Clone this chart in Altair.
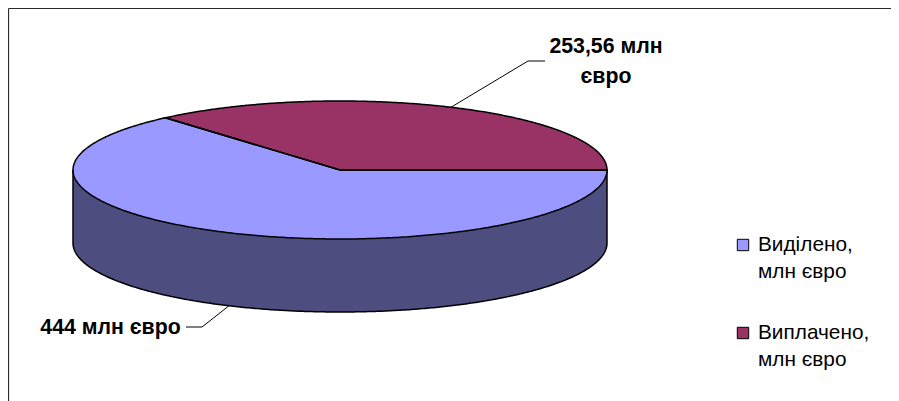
import math
import altair as alt
import pandas as pd

# --- chart values ---
categories = ["Виділено, млн євро", "Виплачено, млн євро"]
values = [444, 253.56]
data_labels = ["444 млн євро", "253,56 млн\nєвро"]
legend_labels = ["Виділено,\nмлн євро", "Виплачено,\nмлн євро"]
colors = ["#9999FF", "#993366"]
side_color = "#4D4D80"

# --- geometry of the tilted pie (unit ellipse, page pixels for the frame) ---
W, H = 883, 393
CX, CY, RX, RY, DEPTH = 340.0, 170.0, 267.0, 69.0, 73.0
d = DEPTH / RY


def ux(px):
    return (px - CX) / RX


def uy(py):
    return (CY - py) / RY


A = 360 * values[1] / sum(values)  # purple sector runs from 0 to A, counter-clockwise
ca, sa = math.cos(math.radians(A)), math.sin(math.radians(A))

ts = sorted(set([float(t) for t in range(0, 181)] + [A]))
xs = [(math.cos(math.radians(t)), math.sin(math.radians(t))) for t in reversed(ts)]
xs = [(x, y) for (x, y) in sorted(xs)]


def spoke(x):
    return x * sa / ca if x < 0 else 0.0


rows = []
for x, y in xs:
    rows.append(dict(name="side", x=x, y=-y, y2=-y - d))
    upper = y if x <= ca else spoke(x)
    rows.append(dict(name=categories[0], x=x, y=-y, y2=upper))
    if x >= ca:
        rows.append(dict(name=categories[1], x=x, y=y, y2=spoke(x)))
areas = pd.DataFrame(rows)

outline = []


def add(name, pts):
    for i, (x, y) in enumerate(pts):
        outline.append(dict(part=name, i=i, x=x, y=y))


def ell(t0, t1, dy=0.0, n=360):
    out = []
    for k in range(n + 1):
        t = math.radians(t0 + (t1 - t0) * k / n)
        out.append((math.cos(t), math.sin(t) + dy))
    return out


add("side", [(-1, 0)] + ell(180, 360, -d) + [(1, 0)])
add("purple", [(0, 0)] + ell(0, A) + [(0, 0)])
add("blue", [(0, 0)] + ell(A, 360) + [(0, 0)])
outlines = pd.DataFrame(outline)

# leader lines start at each slice's mid-angle on the rim
mid_p = math.radians(A / 2)
mid_b = math.radians((A + 360) / 2)
lead = pd.DataFrame(
    [
        dict(part="a", i=0, x=math.cos(mid_p), y=math.sin(mid_p)),
        dict(part="a", i=1, x=ux(528), y=uy(61)),
        dict(part="a", i=2, x=ux(545), y=uy(61)),
        dict(part="b", i=0, x=math.cos(mid_b), y=math.sin(mid_b) - d),
        dict(part="b", i=1, x=ux(202), y=uy(327)),
        dict(part="b", i=2, x=ux(186), y=uy(327)),
    ]
)

labels = pd.DataFrame(
    [
        dict(t=data_labels[0], x=ux(110.5), y=uy(328)),
        dict(t=data_labels[1], x=ux(606), y=uy(47)),
    ]
)
legend_sym = pd.DataFrame(
    [
        dict(name=categories[0], x=ux(743), y=uy(245)),
        dict(name=categories[1], x=ux(743), y=uy(333)),
    ]
)
legend_txt = pd.DataFrame(
    [
        dict(t=legend_labels[0], x=ux(758), y=uy(245)),
        dict(t=legend_labels[1], x=ux(758), y=uy(333)),
    ]
)

x_scale = alt.Scale(domain=[ux(8), ux(8 + W)], nice=False, zero=False)
y_scale = alt.Scale(domain=[uy(8 + H), uy(8)], nice=False, zero=False)
color_scale = alt.Scale(domain=categories + ["side"], range=colors + [side_color])
FRAME = "#2a2a2a"

X = alt.X(
    "x:Q",
    scale=x_scale,
    axis=alt.Axis(orient="top", domain=True, domainColor=FRAME, domainWidth=1.2, ticks=False, labels=False, grid=False, title=None),
)
Y = alt.Y(
    "y:Q",
    scale=y_scale,
    axis=alt.Axis(orient="left", domain=True, domainColor=FRAME, domainWidth=1.2, ticks=False, labels=False, grid=False, title=None),
)

area_layer = (
    alt.Chart(areas)
    .mark_area(interpolate="linear", opacity=1)
    .encode(x=X, y=Y, y2="y2:Q", color=alt.Color("name:N", scale=color_scale, legend=None))
)
line_layer = (
    alt.Chart(outlines)
    .mark_line(color="#000000", strokeWidth=1.5)
    .encode(x=X, y=Y, detail="part:N", order="i:Q")
)
lead_layer = (
    alt.Chart(lead)
    .mark_line(color="#000000", strokeWidth=1)
    .encode(x=X, y=Y, detail="part:N", order="i:Q")
)
label_layer = (
    alt.Chart(labels)
    .mark_text(font="Liberation Sans", fontWeight="bold", fontSize=21.3, lineBreak="\n", lineHeight=30, align="center", baseline="middle", color="#000000")
    .encode(x=X, y=Y, text="t:N")
)
sym_layer = (
    alt.Chart(legend_sym)
    .mark_square(size=130, stroke="#000000", strokeWidth=1, opacity=1, filled=True)
    .encode(x=X, y=Y, fill=alt.Color("name:N", scale=color_scale, legend=None))
)
leg_text = (
    alt.Chart(legend_txt)
    .mark_text(font="Liberation Sans", fontSize=20.8, lineBreak="\n", lineHeight=27, align="left", baseline="middle", color="#000000")
    .encode(x=X, y=Y, text="t:N")
)

chart = (
    alt.layer(area_layer, line_layer, lead_layer, label_layer, sym_layer, leg_text)
    .properties(width=W, height=H, padding=0, autosize=alt.AutoSizeParams(type="none"), background="#ffffff")
    .configure_view(stroke=None)
)
chart.save("out.html", embed_options={"renderer": "svg", "actions": False})
